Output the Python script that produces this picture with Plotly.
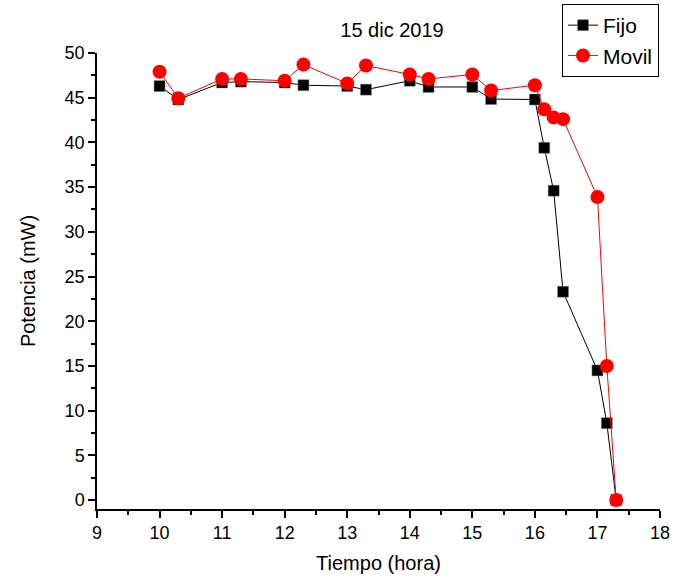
import plotly.graph_objects as go

fijo_x = [10, 10.3, 11, 11.3, 12, 12.3, 13, 13.3, 14, 14.3, 15, 15.3, 16, 16.15, 16.3, 16.45, 17, 17.15, 17.3]
fijo_y = [46.3, 44.8, 46.7, 46.8, 46.7, 46.4, 46.3, 45.9, 46.9, 46.2, 46.2, 44.85, 44.8, 39.4, 34.6, 23.3, 14.5, 8.6, 0]

movil_x = [10, 10.3, 11, 11.3, 12, 12.3, 13, 13.3, 14, 14.3, 15, 15.3, 16, 16.15, 16.3, 16.45, 17, 17.15, 17.3]
movil_y = [47.9, 44.95, 47.1, 47.1, 46.9, 48.7, 46.6, 48.6, 47.6, 47.1, 47.6, 45.8, 46.4, 43.7, 42.8, 42.6, 33.9, 15.0, 0]

title_text = "15 dic 2019"
x_title = "Tiempo (hora)"
y_title = "Potencia (mW)"

FONT = "Liberation Sans, Arial, sans-serif"

fig = go.Figure()
fig.add_trace(go.Scatter(
    x=fijo_x, y=fijo_y, name="Fijo", mode="lines+markers",
    line=dict(color="black", width=1),
    marker=dict(symbol="square", size=11, color="black", line=dict(width=0.5, color="#888"))
))
fig.add_trace(go.Scatter(
    x=movil_x, y=movil_y, name="Movil", mode="lines+markers",
    line=dict(color="red", width=1),
    marker=dict(symbol="circle", size=14, color="red", line=dict(width=0))
))

fig.update_layout(
    width=675, height=584,
    margin=dict(l=97, r=15, t=53, b=75, autoexpand=False),
    paper_bgcolor="white", plot_bgcolor="white",
    font=dict(family=FONT, color="black", size=18),
    title=dict(text=title_text, x=392 / 675, xanchor="center", y=1 - 30 / 584, yanchor="middle",
               font=dict(size=20, family=FONT, color="black")),
    showlegend=True,
    legend=dict(xref="container", yref="container", x=562 / 675, y=1 - 4 / 584,
                xanchor="left", yanchor="top",
                bordercolor="black", borderwidth=1, bgcolor="white",
                font=dict(size=21, family=FONT), tracegroupgap=0),
)
fig.update_xaxes(
    range=[9, 18], dtick=1, tick0=9, showgrid=False, zeroline=False,
    showline=True, linecolor="black", linewidth=1.5,
    ticks="outside", ticklen=7, tickwidth=1.5, tickcolor="black",
    minor=dict(ticks="outside", ticklen=4, dtick=0.5, tickcolor="black", tickwidth=1.5, showgrid=False),
    tickfont=dict(size=18, family=FONT),
    title=dict(text=x_title, font=dict(size=20, family=FONT), standoff=14),
)
fig.update_yaxes(
    range=[-1, 50], dtick=5, tick0=0, showgrid=False, zeroline=False,
    showline=True, linecolor="black", linewidth=1.5,
    ticks="outside", ticklen=7, tickwidth=1.5, tickcolor="black",
    minor=dict(ticks="outside", ticklen=4, dtick=2.5, tickcolor="black", tickwidth=1.5, showgrid=False),
    tickfont=dict(size=18, family=FONT),
    title=dict(text=y_title, font=dict(size=20, family=FONT), standoff=24),
)

fig.write_html("out.html")
